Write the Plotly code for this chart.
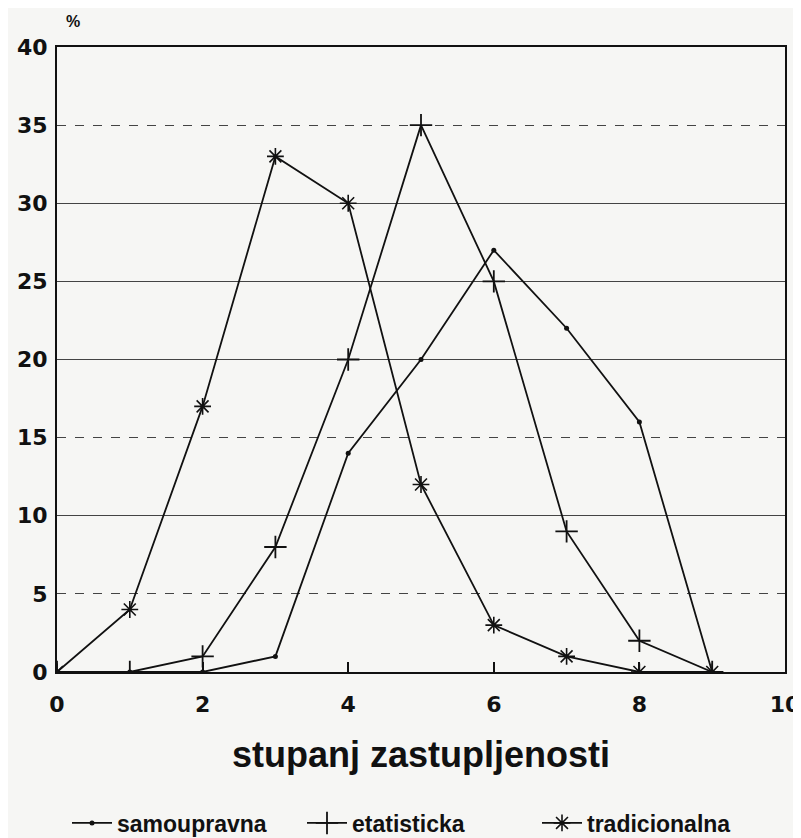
import plotly.graph_objects as go

x_vals = [0, 1, 2, 3, 4, 5, 6, 7, 8, 9]
samoupravna = [0, 0, 0, 1, 14, 20, 27, 22, 16, 0]
etatisticka = [0, 0, 1, 8, 20, 35, 25, 9, 2, 0]
tradicionalna = [0, 4, 17, 33, 30, 12, 3, 1, 0, 0]

y_ticks = [0, 5, 10, 15, 20, 25, 30, 35, 40]
y_solid_grid = [10, 20, 25, 30]
x_ticks = [0, 2, 4, 6, 8, 10]

BG = "#f6f6f4"
INK = "#111111"
GRID = "#444444"
FONT = "DejaVu Sans"
TEXT = "Liberation Sans, Arial"

fig = go.Figure()
fig.add_trace(go.Scatter(
    x=x_vals, y=samoupravna, name="samoupravna", mode="lines+markers",
    line=dict(color=INK, width=1.8),
    marker=dict(symbol="circle", size=5, color=INK),
))
fig.add_trace(go.Scatter(
    x=x_vals, y=etatisticka, name="etatisticka", mode="lines+markers",
    line=dict(color=INK, width=1.8),
    marker=dict(symbol="cross-thin-open", size=16, line=dict(color=INK, width=1.8)),
))
fig.add_trace(go.Scatter(
    x=x_vals, y=tradicionalna, name="tradicionalna", mode="lines+markers",
    line=dict(color=INK, width=1.8),
    marker=dict(symbol="asterisk-open", size=14, line=dict(color=INK, width=1.6)),
))
# empty trace so the overlaying grid axis is drawn
fig.add_trace(go.Scatter(x=[], y=[], yaxis="y2", showlegend=False, hoverinfo="skip"))

fig.update_layout(
    width=793, height=830,
    margin=dict(l=49, r=16, t=39, b=166, autoexpand=False),
    paper_bgcolor=BG, plot_bgcolor=BG,
    font=dict(family=TEXT, color=INK),
    xaxis=dict(
        range=[0, 10], tickvals=x_ticks, ticktext=[str(v) for v in x_ticks],
        ticks="inside", ticklen=10, tickwidth=1.5, tickcolor=INK,
        showgrid=False, zeroline=False, automargin=False,
        showline=True, linecolor=INK, linewidth=2, mirror=True,
        tickfont=dict(family=FONT, size=22, weight="bold", color=INK),
        ticklabelstandoff=12,
        title=dict(text="stupanj zastupljenosti",
                   font=dict(family=TEXT, size=36, weight="bold", color=INK),
                   standoff=25),
    ),
    yaxis=dict(
        range=[0, 40], tickvals=y_ticks, ticktext=[str(v) for v in y_ticks],
        ticks="", showgrid=True, gridcolor=GRID, gridwidth=1,
        griddash="dash", zeroline=False, automargin=False,
        showline=True, linecolor=INK, linewidth=2, mirror=True,
        tickfont=dict(family=FONT, size=22, weight="bold", color=INK),
        ticklabelstandoff=3,
    ),
    yaxis2=dict(
        range=[0, 40], overlaying="y", tickvals=y_solid_grid,
        showticklabels=False, ticks="", showgrid=True, automargin=False,
        gridcolor=GRID, gridwidth=1, zeroline=False, showline=False,
    ),
    legend=dict(
        orientation="h", xref="container", x=59 / 793, xanchor="left",
        yref="container", y=15 / 830, yanchor="middle",
        font=dict(family=TEXT, size=23, weight="bold", color=INK),
        bgcolor="rgba(0,0,0,0)", itemwidth=40,
        entrywidth=180, entrywidthmode="pixels",
    ),
    annotations=[dict(
        text="%", xref="paper", yref="paper", x=0.022, y=1.04,
        xanchor="center", yanchor="middle",
        showarrow=False, font=dict(family=TEXT, size=16, weight="bold", color=INK),
    )],
)

fig.write_html("out.html")
